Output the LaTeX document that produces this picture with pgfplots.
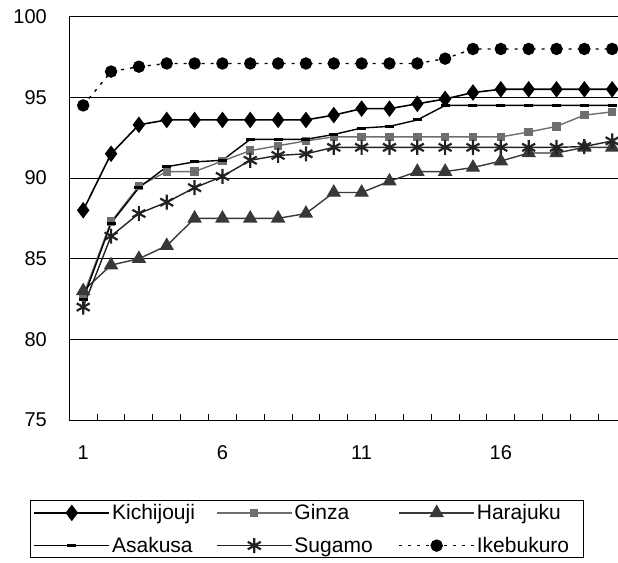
\documentclass[border=0pt]{standalone}
\usepackage{fontspec}
\setmainfont{Liberation Sans}
\usepackage{pgfplots}
\pgfplotsset{compat=1.18}
\definecolor{ginza}{HTML}{6E6E6E}
\definecolor{hara}{HTML}{383838}
\definecolor{suga}{HTML}{222222}
\begin{document}
\begin{tikzpicture}[x=1pt,y=1pt]
\useasboundingbox (-69.3,-142) rectangle (548.7,420);
\clip (-69.3,-142) rectangle (548.7,420);
\begin{axis}[
  at={(0,0)}, anchor=south west,
  scale only axis, width=556.8pt, height=403.3pt,
  xmin=0.5, xmax=20.5, ymin=75, ymax=100,
  axis lines=left, axis line style={-, line width=1pt, black},
  ytick={75,80,85,90,95,100},
  ymajorgrids, grid style={black, line width=0.9pt},
  xtick={1,6,11,16},
  minor xtick={1.5,2.5,...,20.5},
  major tick length=0pt, minor tick length=6pt,
  tick align=inside, tick style={black, line width=1pt},
  ticklabel style={font=\fontsize{20}{24}\selectfont},
  /pgf/number format/assume math mode=true,
  xticklabel style={yshift=-22pt},
  yticklabel style={xshift=-19pt},
  clip=false,
  legend columns=3,
  legend cell align=left,
  legend style={at={(-0.0706,-0.1984)}, anchor=north west, draw=black, line width=1pt,
    font=\fontsize{21}{25}\selectfont, row sep=12pt, inner xsep=3pt, inner ysep=2pt,
    nodes={inner sep=2pt}},
  legend image code/.code={
    \draw[mark repeat=2,mark phase=2,#1] plot coordinates {(0pt,0pt) (37.5pt,0pt) (75pt,0pt)};
  },
]
\addplot[black, line width=1.6pt, mark=diamond*, mark size=7pt, mark options={solid}] coordinates {
(1,88.0) (2,91.5) (3,93.3) (4,93.6) (5,93.6) (6,93.6) (7,93.6) (8,93.6) (9,93.6) (10,93.9)
(11,94.3) (12,94.3) (13,94.6) (14,94.9) (15,95.3) (16,95.5) (17,95.5) (18,95.5) (19,95.5) (20,95.5)};
\addlegendentry{\makebox[102pt][l]{Kichijouji}}
\addplot[ginza, line width=1.4pt, mark=square*, mark size=3.5pt, mark options={solid}] coordinates {
(1,82.7) (2,87.3) (3,89.5) (4,90.4) (5,90.4) (6,91.05) (7,91.7) (8,92.0) (9,92.3) (10,92.55)
(11,92.55) (12,92.55) (13,92.55) (14,92.55) (15,92.55) (16,92.55) (17,92.85) (18,93.2) (19,93.9) (20,94.1)};
\addlegendentry{\makebox[102pt][l]{Ginza}}
\addplot[hara, line width=1.4pt, mark=triangle*, mark size=7pt, mark options={solid}] coordinates {
(1,83.0) (2,84.6) (3,85.0) (4,85.8) (5,87.5) (6,87.5) (7,87.5) (8,87.5) (9,87.8) (10,89.1)
(11,89.1) (12,89.8) (13,90.4) (14,90.4) (15,90.65) (16,91.05) (17,91.55) (18,91.55) (19,91.9) (20,91.9)};
\addlegendentry{\makebox[102pt][l]{Harajuku}}
\addplot[black, line width=1.4pt, mark=-, mark size=4.5pt, mark options={solid, line width=3pt}] coordinates {
(1,82.5) (2,87.2) (3,89.4) (4,90.7) (5,91.0) (6,91.1) (7,92.4) (8,92.4) (9,92.4) (10,92.7)
(11,93.1) (12,93.2) (13,93.6) (14,94.5) (15,94.5) (16,94.5) (17,94.5) (18,94.5) (19,94.5) (20,94.5)};
\addlegendentry{\makebox[102pt][l]{Asakusa}}
\addplot[suga, line width=1.4pt, mark=asterisk, mark size=7.5pt, mark options={solid, line width=2.2pt}] coordinates {
(1,82.0) (2,86.4) (3,87.8) (4,88.5) (5,89.4) (6,90.1) (7,91.1) (8,91.4) (9,91.5) (10,91.9)
(11,91.9) (12,91.9) (13,91.9) (14,91.9) (15,91.9) (16,91.9) (17,91.9) (18,91.9) (19,91.95) (20,92.3)};
\addlegendentry{\makebox[102pt][l]{Sugamo}}
\addplot[black, line width=1.4pt, dash pattern=on 3pt off 6pt, mark=*, mark size=5.5pt, mark options={solid}] coordinates {
(1,94.5) (2,96.6) (3,96.9) (4,97.1) (5,97.1) (6,97.1) (7,97.1) (8,97.1) (9,97.1) (10,97.1)
(11,97.1) (12,97.1) (13,97.1) (14,97.4) (15,98.0) (16,98.0) (17,98.0) (18,98.0) (19,98.0) (20,98.0)};
\addlegendentry{\makebox[102pt][l]{Ikebukuro}}
\end{axis}
\end{tikzpicture}
\end{document}
